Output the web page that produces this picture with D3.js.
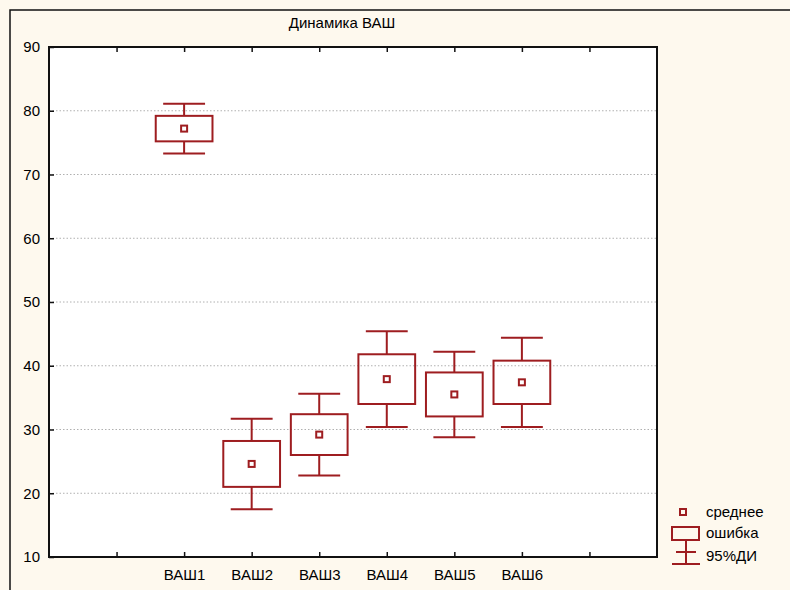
<!DOCTYPE html>
<html>
<head>
<meta charset="utf-8">
<script src="https://cdn.jsdelivr.net/npm/d3@7"></script>
<style>
  body { margin: 0; background: #fef9ee; }
  svg text { font-family: "Liberation Sans", Arial, sans-serif; fill: #000; }
</style>
</head>
<body>
<div id="chart"></div>
<script>
// значения
const categories = ["ВАШ1", "ВАШ2", "ВАШ3", "ВАШ4", "ВАШ5", "ВАШ6"];
const means = [77.2, 24.6, 29.2, 37.9, 35.5, 37.4];
const errors = [2.0, 3.6, 3.2, 3.9, 3.45, 3.4];      // ошибка среднего
const ci95 = [3.9, 7.1, 6.4, 7.5, 6.7, 7.0];         // 95% ДИ
const yTicks = [10, 20, 30, 40, 50, 60, 70, 80, 90];
const xTicks = [1, 2, 3, 4, 5, 6, 7, 8];
const legendLabels = ["среднее", "ошибка", "95%ДИ"];

const width = 790;
const height = 590;
const red = "#9e1d20";

const svg = d3.select("#chart").append("svg")
  .attr("width", width)
  .attr("height", height);

svg.append("rect")
  .attr("width", width).attr("height", height)
  .attr("fill", "#fef9ee");

// внешняя рамка
svg.append("rect")
  .attr("x", 10).attr("y", 10)
  .attr("width", width).attr("height", height)
  .attr("fill", "none")
  .attr("stroke", "#111")
  .attr("stroke-width", 1.5);

const x = d3.scaleLinear().domain([0, 9]).range([49, 657]);
const y = d3.scaleLinear().domain([10, 90]).range([557, 47]);

svg.append("rect")
  .attr("x", x(0)).attr("y", y(90))
  .attr("width", x(9) - x(0)).attr("height", y(10) - y(90))
  .attr("fill", "#fff");

// сетка
svg.selectAll(".grid")
  .data(yTicks.filter(d => d > 10 && d < 90))
  .join("line")
  .attr("class", "grid")
  .attr("x1", x(0)).attr("x2", x(9))
  .attr("y1", d => y(d)).attr("y2", d => y(d))
  .attr("stroke", "#b0b0b0")
  .attr("stroke-dasharray", "1.5,2");

// оси
const yAxis = svg.append("g")
  .attr("transform", `translate(${x(0)},0)`)
  .call(d3.axisLeft(y).tickValues(yTicks).tickSize(-5).tickPadding(9));

const xBottom = svg.append("g")
  .attr("transform", `translate(0,${y(10)})`)
  .call(d3.axisBottom(x).tickValues(xTicks).tickSize(-5).tickPadding(12)
    .tickFormat(d => categories[d - 2] || ""));

const xTop = svg.append("g")
  .attr("transform", `translate(0,${y(90)})`)
  .call(d3.axisTop(x).tickValues(xTicks).tickSize(-5).tickFormat(""));

[yAxis, xBottom, xTop].forEach(g => {
  g.select(".domain").remove();
  g.selectAll(".tick line").attr("stroke", "#111").attr("stroke-width", 1.5);
  g.selectAll("text").style("font-size", "15px").attr("fill", "#000");
});

svg.append("rect")
  .attr("x", x(0)).attr("y", y(90))
  .attr("width", x(9) - x(0)).attr("height", y(10) - y(90))
  .attr("fill", "none")
  .attr("stroke", "#111")
  .attr("stroke-width", 2);

// заголовок
svg.append("text")
  .attr("x", 342).attr("y", 28)
  .attr("text-anchor", "middle")
  .style("font-size", "15px")
  .text("Динамика ВАШ");

// ящики
const step = x(1) - x(0);
const boxW = step * 0.84;
const capW = step * 0.62;

const data = categories.map((c, i) => ({ cat: c, pos: i + 2, mean: means[i], se: errors[i], ci: ci95[i] }));

const g = svg.selectAll(".box")
  .data(data)
  .join("g")
  .attr("class", "box")
  .attr("fill", "none")
  .attr("stroke", red)
  .attr("stroke-width", 2);

g.append("line")
  .attr("x1", d => x(d.pos)).attr("x2", d => x(d.pos))
  .attr("y1", d => y(d.mean + d.ci)).attr("y2", d => y(d.mean + d.se));
g.append("line")
  .attr("x1", d => x(d.pos)).attr("x2", d => x(d.pos))
  .attr("y1", d => y(d.mean - d.se)).attr("y2", d => y(d.mean - d.ci));
g.append("line")
  .attr("x1", d => x(d.pos) - capW / 2).attr("x2", d => x(d.pos) + capW / 2)
  .attr("y1", d => y(d.mean + d.ci)).attr("y2", d => y(d.mean + d.ci));
g.append("line")
  .attr("x1", d => x(d.pos) - capW / 2).attr("x2", d => x(d.pos) + capW / 2)
  .attr("y1", d => y(d.mean - d.ci)).attr("y2", d => y(d.mean - d.ci));
g.append("rect")
  .attr("x", d => x(d.pos) - boxW / 2).attr("width", boxW)
  .attr("y", d => y(d.mean + d.se))
  .attr("height", d => y(d.mean - d.se) - y(d.mean + d.se));
g.append("rect")
  .attr("x", d => x(d.pos) - 3).attr("y", d => y(d.mean) - 3)
  .attr("width", 6).attr("height", 6);

// легенда
const lg = svg.append("g").attr("fill", "none").attr("stroke", red).attr("stroke-width", 2);
lg.append("rect").attr("x", 680).attr("y", 509).attr("width", 6).attr("height", 6);
lg.append("rect").attr("x", 672).attr("y", 527).attr("width", 27).attr("height", 13);
lg.append("line").attr("x1", 686).attr("x2", 686).attr("y1", 540).attr("y2", 564);
lg.append("line").attr("x1", 676).attr("x2", 696).attr("y1", 552).attr("y2", 552);
lg.append("line").attr("x1", 672).attr("x2", 700).attr("y1", 564).attr("y2", 564);

svg.selectAll(".leg-text")
  .data(legendLabels)
  .join("text")
  .attr("class", "leg-text")
  .attr("x", 706)
  .attr("y", (d, i) => [517, 538, 561][i])
  .style("font-size", "15px")
  .text(d => d);
</script>
</body>
</html>
